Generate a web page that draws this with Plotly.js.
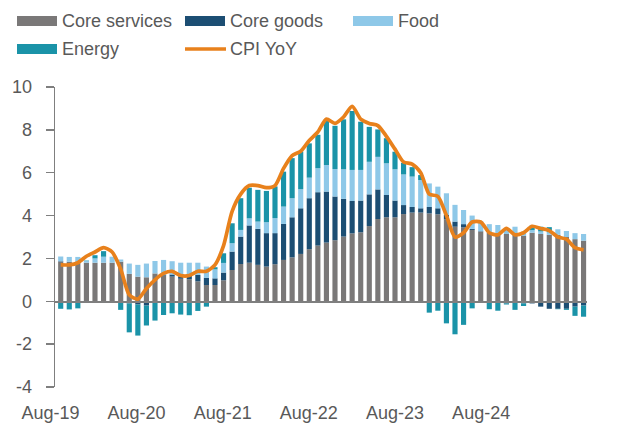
<!DOCTYPE html>
<html>
<head>
<meta charset="utf-8">
<script src="https://cdn.plot.ly/plotly-3.0.1.min.js"></script>
<style>html,body{margin:0;padding:0;background:#fff;}#chart{width:623px;height:435px;}</style>
</head>
<body>
<div id="chart"></div>
<script>
// Monthly data, Aug-19 .. Sep-24 (percentage-point contributions to CPI YoY)
var months = [];
(function(){
  var names = ['Jan','Feb','Mar','Apr','May','Jun','Jul','Aug','Sep','Oct','Nov','Dec'];
  var m = 7, y = 19;
  for (var i = 0; i < 62; i++) {
    months.push(names[m] + '-' + y);
    m++; if (m === 12) { m = 0; y++; }
  }
})();

var coreServices = [1.85,1.85,1.85,1.80,1.80,1.80,1.80,1.85,1.28,1.15,
  1.12,1.30,1.20,1.15,1.05,1.03,0.93,0.76,0.76,0.98,
  1.46,1.74,1.80,1.70,1.62,1.73,1.93,2.05,2.21,2.43,
  2.60,2.74,2.85,3.02,3.17,3.22,3.51,3.84,3.92,3.92,
  4.07,4.14,4.14,4.10,4.06,3.83,3.48,3.45,3.33,3.25,
  3.20,3.17,3.14,3.10,3.05,3.20,3.14,3.10,3.10,3.00,
  2.90,2.83];
var coreGoods = [0.02,0.00,0.00,0.00,0.00,0.00,0.00,0.00,-0.10,-0.15,
  -0.20,-0.05,0.05,0.10,0.12,0.15,0.30,0.34,0.31,0.36,
  0.86,1.28,1.74,1.68,1.56,1.45,1.68,1.87,2.13,2.38,
  2.49,2.38,2.04,1.76,1.51,1.48,1.48,1.38,1.04,0.78,
  0.42,0.26,0.20,0.30,0.28,0.20,0.24,0.15,0.05,0.02,
  0.00,0.00,-0.10,-0.05,-0.10,-0.10,-0.25,-0.35,-0.35,-0.35,
  -0.25,-0.20];
var food = [0.22,0.22,0.22,0.08,0.20,0.28,0.28,0.10,0.48,0.55,
  0.64,0.58,0.68,0.62,0.63,0.62,0.57,0.52,0.42,0.45,
  0.39,0.31,0.33,0.34,0.51,0.70,0.81,0.89,0.89,0.96,
  1.12,1.24,1.28,1.38,1.45,1.43,1.52,1.52,1.48,1.46,
  1.43,1.42,1.32,1.10,1.01,1.01,0.78,0.66,0.62,0.47,
  0.40,0.39,0.26,0.38,0.20,0.12,0.12,0.12,0.26,0.28,
  0.28,0.31];
var energy = [-0.35,-0.38,-0.33,0.02,0.15,0.26,0.00,-0.40,-1.35,-1.45,
  -0.93,-0.85,-0.64,-0.56,-0.62,-0.65,-0.45,-0.25,0.10,0.45,
  0.93,1.48,1.43,1.48,1.46,1.48,1.63,1.87,1.76,1.60,
  1.56,2.15,2.02,2.33,2.75,2.25,1.63,1.28,1.17,0.82,
  0.54,0.44,0.23,-0.53,-0.44,-1.03,-1.54,-1.10,-0.33,-0.05,
  -0.37,-0.44,-0.05,-0.35,-0.12,0.22,0.22,0.24,-0.02,-0.05,
  -0.43,-0.52];
var cpiYoY = [1.7,1.7,1.8,2.1,2.3,2.5,2.3,1.5,0.3,0.1,
  0.6,1.0,1.3,1.4,1.2,1.2,1.4,1.4,1.7,2.6,
  4.2,5.0,5.4,5.4,5.3,5.4,6.2,6.8,7.0,7.5,
  7.9,8.5,8.3,8.6,9.1,8.5,8.3,8.2,7.7,7.1,
  6.5,6.4,6.0,5.0,4.9,4.0,3.0,3.2,3.7,3.7,
  3.2,3.1,3.4,3.1,3.2,3.5,3.4,3.3,3.0,2.9,
  2.5,2.4];
var tickLabels = ['Aug-19','Aug-20','Aug-21','Aug-22','Aug-23','Aug-24'];
var yTicks = [-4,-2,0,2,4,6,8,10];

var seriesNames = ['Core services','Core goods','Food','Energy','CPI YoY'];
var colors = ['#7a7878','#1c4e73','#8ec8e8','#1a93a8','#e8811c'];

var xIdx = months.map(function(_, i){ return i; });

function barTrace(name, vals, color) {
  return {type:'bar', name:name, x:xIdx, y:vals, customdata:months,
    marker:{color:color, line:{width:0}}, showlegend:false,
    hovertemplate:'%{customdata}: %{y}<extra>'+name+'</extra>'};
}
var traces = [
  barTrace(seriesNames[0], coreServices, colors[0]),
  barTrace(seriesNames[1], coreGoods, colors[1]),
  barTrace(seriesNames[2], food, colors[2]),
  barTrace(seriesNames[3], energy, colors[3]),
  {type:'scatter', mode:'lines', name:seriesNames[4], x:xIdx, y:cpiYoY, customdata:months,
   line:{color:colors[4], width:3.7, shape:'spline', smoothing:0.7}, showlegend:false,
   hovertemplate:'%{customdata}: %{y}<extra>CPI YoY</extra>'},
  // empty trace so the label axis (x2) is instantiated; draws nothing
  {type:'scatter', mode:'lines', x:[], y:[], xaxis:'x2', yaxis:'y', showlegend:false, hoverinfo:'skip'}
];

// Layout geometry (pixels)
var W = 623, H = 435, mL = 15, mR = 15, mT = 87, mB = 48;
var plotLeft = 55, plotRight = 587;
var pw = W - mL - mR, ph = H - mT - mB;
function px(x){ return (x - mL) / pw; }
function py(y){ return (H - mB - y) / ph; }

// bar index <-> pixel mapping of the main x axis
var xRange = [-0.665, 61.4];
var unitPx = (plotRight - plotLeft) / (xRange[1] - xRange[0]);
var x2Range = [xRange[0] - (plotLeft - mL) / unitPx, xRange[1] + (W - mR - plotRight) / unitPx];

var textColor = '#595959';
var shapes = [], annotations = [];
var legendItems = [
  {name:seriesNames[0], color:colors[0], x:17, y:21, kind:'box'},
  {name:seriesNames[1], color:colors[1], x:185, y:21, kind:'box'},
  {name:seriesNames[2], color:colors[2], x:353, y:21, kind:'box'},
  {name:seriesNames[3], color:colors[3], x:17, y:49, kind:'box'},
  {name:seriesNames[4], color:colors[4], x:185, y:49, kind:'line'}
];
legendItems.forEach(function(it){
  if (it.kind === 'box') {
    shapes.push({type:'rect', xref:'paper', yref:'paper', x0:px(it.x), x1:px(it.x+40),
      y0:py(it.y-5), y1:py(it.y+5), fillcolor:it.color, line:{width:0}, layer:'above'});
  } else {
    shapes.push({type:'line', xref:'paper', yref:'paper', x0:px(it.x), x1:px(it.x+41),
      y0:py(it.y), y1:py(it.y), line:{color:it.color, width:3.5}, layer:'above'});
  }
  annotations.push({xref:'paper', yref:'paper', x:px(it.x+43), y:py(it.y), xanchor:'left', yanchor:'middle',
    text:it.name, showarrow:false, font:{size:18, color:textColor}});
});

var layout = {
  width:W, height:H,
  margin:{l:mL, r:mR, t:mT, b:mB, pad:0},
  paper_bgcolor:'#ffffff', plot_bgcolor:'rgba(0,0,0,0)',
  font:{family:'"Liberation Sans", Arial, sans-serif', size:17, color:textColor},
  barmode:'relative', bargap:0.4,
  showlegend:false,
  xaxis:{type:'linear', domain:[px(plotLeft), px(plotRight)], range:xRange,
    anchor:'free', position:(0 - (-4)) / 14,
    showgrid:false, zeroline:false, showline:true, linecolor:'#7f7f7f', linewidth:1.3,
    ticks:'', showticklabels:false},
  xaxis2:{type:'linear', domain:[0,1], range:x2Range, anchor:'y',
    showgrid:false, zeroline:false, showline:false, ticks:'', tickmode:'array',
    tickvals:tickLabels.map(function(_, k){ return -1.2 + 10.05*k; }),
    ticktext:tickLabels, tickfont:{size:18, color:textColor}, ticklabelstandoff:13},
  yaxis:{range:[-4,10], anchor:'x', tickmode:'array', tickvals:yTicks, ticktext:yTicks.map(String),
    showgrid:false, showline:true, linecolor:'#7f7f7f', linewidth:1.3,
    ticks:'outside', ticklen:8, tickcolor:'#7f7f7f', tickwidth:1.3,
    zeroline:false,
    tickfont:{size:18, color:textColor}, ticklabelstandoff:10},
  shapes:shapes, annotations:annotations
};

Plotly.newPlot('chart', traces, layout, {displayModeBar:false, staticPlot:true});
</script>
</body>
</html>
